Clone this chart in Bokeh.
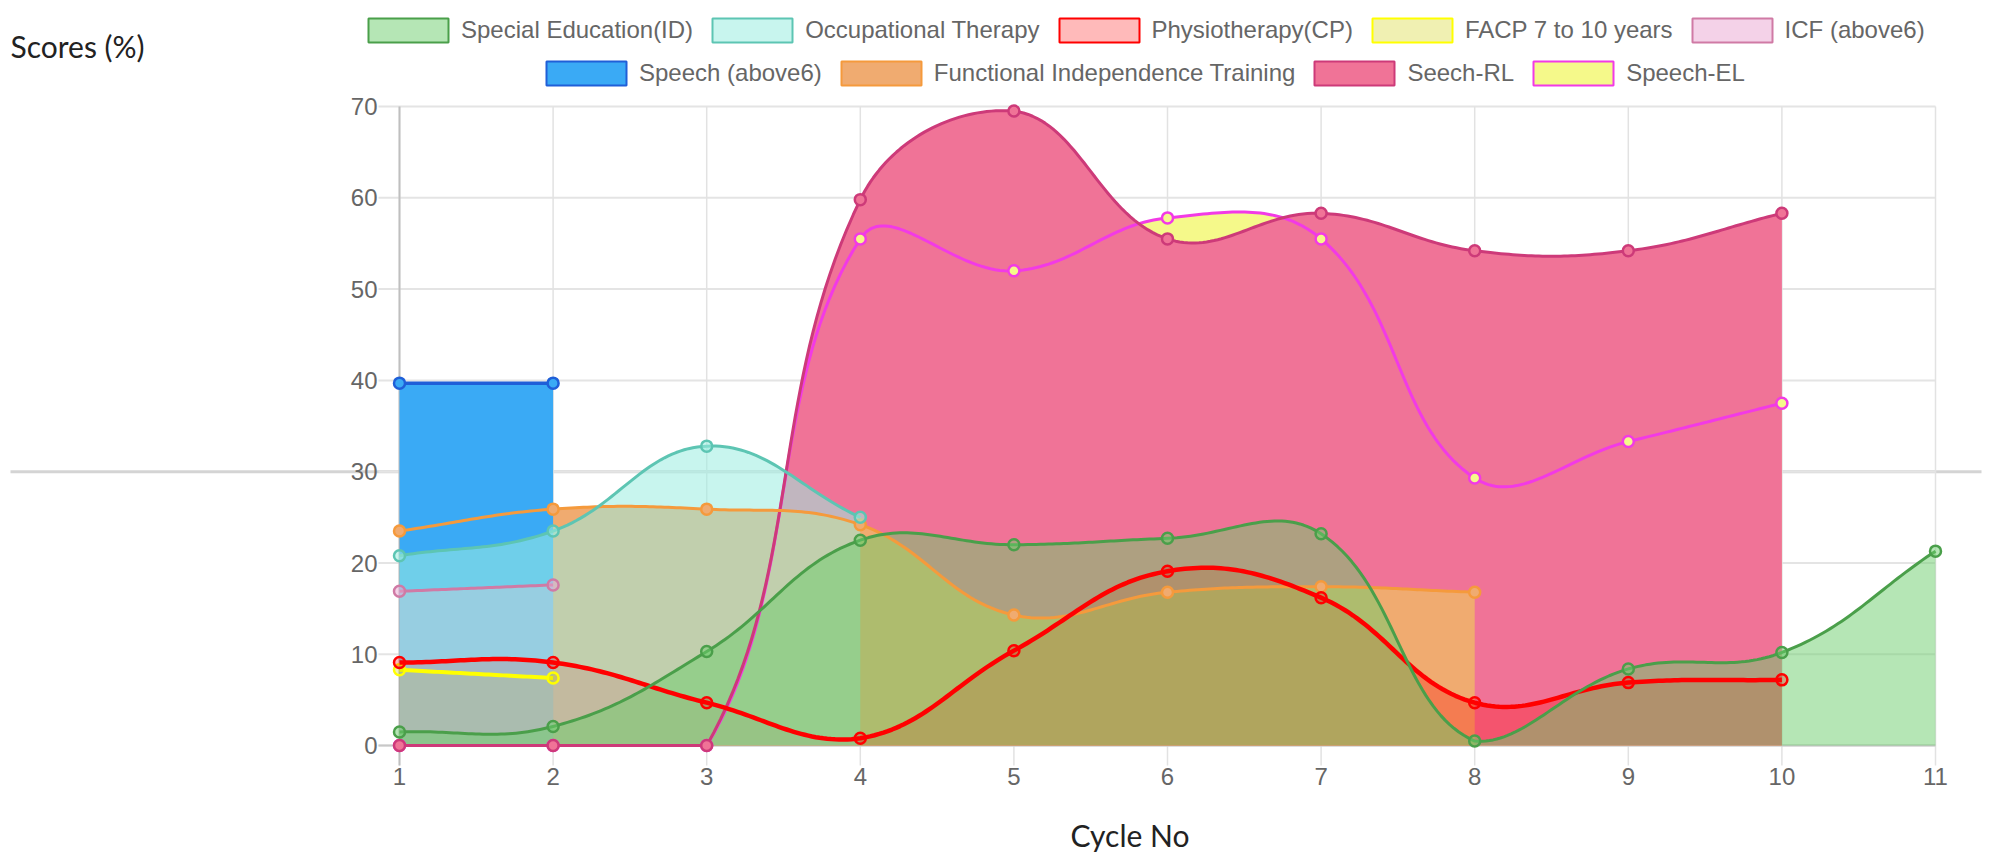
import math
import numpy as np
from bokeh.plotting import figure
from bokeh.models import (Range1d, FixedTicker, Legend, LegendItem, Label)
from bokeh.embed import file_html
from bokeh.resources import INLINE

# ---------------- data ----------------
cycles = [1, 2, 3, 4, 5, 6, 7, 8, 9, 10, 11]
x_tick_labels = ["1", "2", "3", "4", "5", "6", "7", "8", "9", "10", "11"]
y_ticks = [0, 10, 20, 30, 40, 50, 60, 70]

special_education = [1.5, 2.1, 10.3, 22.5, 22.0, 22.7, 23.2, 0.5, 8.4, 10.2, 21.3]
occupational_therapy = [20.8, 23.5, 32.8, 25.0, None, None, None, None, None, None, None]
physiotherapy = [9.1, 9.1, 4.7, 0.8, 10.4, 19.1, 16.2, 4.7, 6.9, 7.2, None]
facp_7_10 = [8.3, 7.4, None, None, None, None, None, None, None, None, None]
icf_above6 = [16.9, 17.6, None, None, None, None, None, None, None, None, None]
speech_above6 = [39.7, 39.7, None, None, None, None, None, None, None, None, None]
functional_independence = [23.5, 25.9, 25.9, 24.2, 14.3, 16.8, 17.4, 16.8, None, None, None]
seech_rl = [0, 0, 0, 59.8, 69.5, 55.5, 58.3, 54.2, 54.2, 58.3, None]
speech_el = [0, 0, 0, 55.5, 52.0, 57.8, 55.5, 29.3, 33.3, 37.5, None]

series_names = ["Special Education(ID)", "Occupational Therapy", "Physiotherapy(CP)",
                "FACP 7 to 10 years", "ICF (above6)", "Speech (above6)",
                "Functional Independence Training", "Seech-RL", "Speech-EL"]
series_values = [special_education, occupational_therapy, physiotherapy, facp_7_10,
                 icf_above6, speech_above6, functional_independence, seech_rl, speech_el]

y_title = "Scores (%)"
x_title = "Cycle No"

# styles: (fill colour, fill alpha, line colour, line width)
styles = [
    ("#6bcd6b", 0.5, "#4a9f4a", 3.0),
    ("#9bede0", 0.55, "#5dc5b3", 3.0),
    ("#ff0000", 0.27, "#ff0000", 4.5),
    ("#cccc00", 0.3, "#ffff00", 4.0),
    ("#e9a5d1", 0.5, "#d07aa5", 3.0),
    ("#3aaaf5", 1.0, "#1f5fd8", 3.5),
    ("#f0ab70", 1.0, "#f59a3c", 3.0),
    ("#f07397", 1.0, "#cd3a79", 3.0),
    ("#f5f98a", 1.0, "#f23ae6", 3.0),
]

# ---------------- geometry (page pixels) ----------------
W, H = 1991, 857
PX = 153.6            # px per cycle
PY = 9.13             # px per score unit
X0 = 1 - 399 / PX     # x=1 sits at page x 399
X1 = X0 + W / PX
Y1 = 70 + 106 / PY    # y=70 sits at page y 106
Y0 = Y1 - H / PY


def dx(px):
    return X0 + px / PX


def dy(py):
    return Y1 - py / PY


def smooth(xs, ys, tension=0.4, n=40):
    P = [(x * PX, y * PY) for x, y in zip(xs, ys)]
    m = len(P)
    cps = []
    for i in range(m):
        cur = P[i]
        prev = P[i - 1] if i > 0 else cur
        nxt = P[i + 1] if i < m - 1 else cur
        d01 = math.hypot(cur[0] - prev[0], cur[1] - prev[1])
        d12 = math.hypot(nxt[0] - cur[0], nxt[1] - cur[1])
        tot = d01 + d12
        s01 = d01 / tot if tot else 0
        s12 = d12 / tot if tot else 0
        fa, fb = tension * s01, tension * s12
        cpp = [cur[0] - fa * (nxt[0] - prev[0]), cur[1] - fa * (nxt[1] - prev[1])]
        cpn = [cur[0] + fb * (nxt[0] - prev[0]), cur[1] + fb * (nxt[1] - prev[1])]
        for c in (cpp, cpn):
            c[0] = min(max(c[0], 1 * PX), 11 * PX)
            c[1] = min(max(c[1], 0), 70 * PY)
        cps.append((cpp, cpn))
    ox, oy = [P[0][0]], [P[0][1]]
    t = np.linspace(0, 1, n)[1:]
    for i in range(m - 1):
        p0, c1, c2, p3 = P[i], cps[i][1], cps[i + 1][0], P[i + 1]
        bx = (1 - t) ** 3 * p0[0] + 3 * (1 - t) ** 2 * t * c1[0] + 3 * (1 - t) * t ** 2 * c2[0] + t ** 3 * p3[0]
        by = (1 - t) ** 3 * p0[1] + 3 * (1 - t) ** 2 * t * c1[1] + 3 * (1 - t) * t ** 2 * c2[1] + t ** 3 * p3[1]
        ox.extend(bx.tolist())
        oy.extend(by.tolist())
    return np.array(ox) / PX, np.array(oy) / PY


p = figure(width=W, height=H, x_range=Range1d(X0, X1), y_range=Range1d(Y0, Y1),
           output_backend="svg", toolbar_location=None, min_border=0)
p.outline_line_color = None
p.background_fill_color = "white"
p.title.visible = False
p.grid.visible = False

# ---------------- grid (Chart.js style: gridlines continue as tick marks) ----------------
x_left, x_right = dx(378), cycles[-1]
y_bottom, y_top = dy(765), y_ticks[-1]
# long page rule at 30 behind everything
p.segment(x0=[dx(10)], y0=[30], x1=[dx(1981)], y1=[30], line_color="#d4d4d4", line_width=3)
p.segment(x0=[x_left] * len(y_ticks), y0=y_ticks, x1=[x_right] * len(y_ticks), y1=y_ticks,
          line_color="#e4e4e4", line_width=2)
p.segment(x0=cycles, y0=[y_bottom] * len(cycles), x1=cycles, y1=[y_top] * len(cycles),
          line_color="#e2e2e2", line_width=1.5)
p.segment(x0=[cycles[0]], y0=[y_bottom], x1=[cycles[0]], y1=[y_top], line_color="#bfbfbf", line_width=2)
p.segment(x0=[x_left], y0=[0], x1=[x_right], y1=[0], line_color="#c8c8c8", line_width=2)

# ---------------- axes fixed at the chart area edges ----------------
for ax in (p.xaxis[0], p.yaxis[0]):
    ax.axis_line_color = None
    ax.major_tick_line_color = None
    ax.minor_tick_line_color = None
    ax.major_tick_out = 0
    ax.major_tick_in = 0
    ax.minor_tick_out = 0
    ax.minor_tick_in = 0
    ax.major_label_text_font = "Liberation Sans"
    ax.major_label_text_font_size = "24px"
    ax.major_label_text_color = "#666666"
p.xaxis[0].ticker = FixedTicker(ticks=cycles)
p.xaxis[0].major_label_overrides = {c: lab for c, lab in zip(cycles, x_tick_labels)}
p.xaxis[0].major_label_standoff = 2
p.xaxis[0].fixed_location = y_bottom
p.yaxis[0].ticker = FixedTicker(ticks=y_ticks)
p.yaxis[0].major_label_standoff = 1
p.yaxis[0].fixed_location = x_left

# ---------------- series ----------------
curves = []
for vals in series_values:
    xs = [c for c, v in zip(cycles, vals) if v is not None]
    ys = [v for v in vals if v is not None]
    sx, sy = smooth(xs, ys)
    curves.append((xs, ys, sx, sy))

order = list(range(len(series_values)))[::-1]

for i in order:
    xs, ys, sx, sy = curves[i]
    fc, fa, lc, lw = styles[i]
    p.patch(list(sx) + [xs[-1], xs[0]], list(sy) + [0, 0], fill_color=fc, fill_alpha=fa,
            line_color=None)

for i in order:
    xs, ys, sx, sy = curves[i]
    fc, fa, lc, lw = styles[i]
    p.line(sx, sy, line_color=lc, line_width=lw, line_join="round")
    p.scatter(xs, ys, size=11, fill_color=fc, fill_alpha=fa, line_color=lc, line_width=2.5)

# ---------------- legend ----------------
nan = [float("nan")]
proxies = []
for i in range(len(series_names)):
    fc, fa, lc, lw = styles[i]
    proxies.append(p.quad(left=nan, right=nan, top=nan, bottom=nan, fill_color=fc, fill_alpha=fa,
                          line_color=lc, line_width=2))


def series_legend(idx, loc):
    return Legend(items=[LegendItem(label=series_names[i], renderers=[proxies[i]]) for i in idx],
                  orientation="horizontal", location=loc, padding=0, margin=0, spacing=9,
                  label_standoff=3, glyph_width=100, glyph_height=30,
                  label_text_font="Liberation Sans", label_text_font_size="24px",
                  label_text_color="#666666", border_line_color=None, background_fill_alpha=0)


# location = bottom-left corner, measured from the canvas bottom-left
p.add_layout(series_legend([0, 1, 2, 3, 4], (358, H - 45)))
p.add_layout(series_legend([5, 6, 7, 8], (536, H - 88)))

p.add_layout(Label(text=y_title, x=10, y=H - 45, x_units="screen", y_units="screen",
                   text_font="Lato", text_font_size="30px", text_color="#222222",
                   text_baseline="alphabetic"))
p.add_layout(Label(text=x_title, x=1070, y=H - 834, x_units="screen", y_units="screen",
                   text_font="Lato", text_font_size="30px", text_color="#222222",
                   text_baseline="alphabetic"))

open("out.html", "w").write(file_html(p, INLINE))
